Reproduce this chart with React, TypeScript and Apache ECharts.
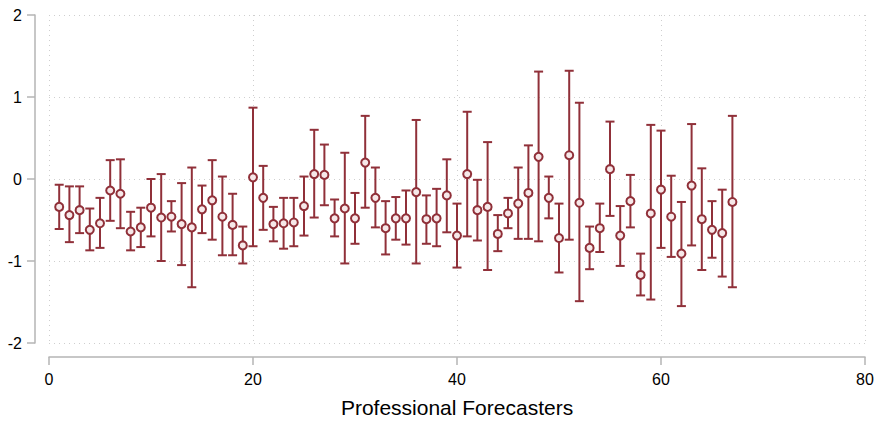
import React, { useEffect, useRef } from "react";
import * as echarts from "echarts";

const forecasters = [
  1, 2, 3, 4, 5, 6, 7, 8, 9, 10, 11, 12, 13, 14, 15, 16, 17, 18, 19, 20,
  21, 22, 23, 24, 25, 26, 27, 28, 29, 30, 31, 32, 33, 34, 35, 36, 37, 38, 39, 40,
  41, 42, 43, 44, 45, 46, 47, 48, 49, 50, 51, 52, 53, 54, 55, 56, 57, 58, 59, 60,
  61, 62, 63, 64, 65, 66, 67,
];

const estimates = [
  -0.34, -0.44, -0.38, -0.62, -0.54, -0.14, -0.18, -0.64, -0.59, -0.35,
  -0.47, -0.46, -0.55, -0.59, -0.37, -0.26, -0.46, -0.56, -0.81, 0.02,
  -0.23, -0.55, -0.54, -0.53, -0.33, 0.06, 0.05, -0.48, -0.36, -0.48,
  0.2, -0.23, -0.6, -0.48, -0.48, -0.16, -0.49, -0.48, -0.2, -0.69,
  0.06, -0.38, -0.34, -0.67, -0.42, -0.3, -0.17, 0.27, -0.23, -0.72,
  0.29, -0.29, -0.84, -0.6, 0.12, -0.69, -0.27, -1.17, -0.42, -0.13,
  -0.46, -0.91, -0.08, -0.49, -0.62, -0.66, -0.28,
];

const upper = [
  -0.07, -0.09, -0.09, -0.36, -0.23, 0.23, 0.24, -0.4, -0.35, 0.0,
  0.06, -0.27, -0.05, 0.14, -0.08, 0.23, 0.03, -0.18, -0.58, 0.87,
  0.16, -0.34, -0.23, -0.23, 0.03, 0.6, 0.42, -0.25, 0.32, -0.17,
  0.77, 0.14, -0.27, -0.22, -0.14, 0.72, -0.2, -0.12, 0.24, -0.3,
  0.82, -0.01, 0.45, -0.44, -0.23, 0.14, 0.41, 1.31, 0.03, -0.3,
  1.32, 0.93, -0.58, -0.3, 0.7, -0.33, 0.05, -0.91, 0.66, 0.59,
  0.04, -0.28, 0.67, 0.13, -0.27, -0.13, 0.77,
];

const lower = [
  -0.61, -0.77, -0.66, -0.87, -0.84, -0.51, -0.6, -0.87, -0.83, -0.7,
  -1.0, -0.64, -1.05, -1.32, -0.66, -0.74, -0.93, -0.93, -1.03, -0.82,
  -0.62, -0.76, -0.85, -0.82, -0.69, -0.47, -0.32, -0.7, -1.03, -0.79,
  -0.35, -0.59, -0.92, -0.74, -0.8, -1.03, -0.79, -0.82, -0.65, -1.08,
  -0.7, -0.75, -1.11, -0.88, -0.6, -0.73, -0.73, -0.76, -0.48, -1.14,
  -0.74, -1.49, -1.1, -0.89, -0.45, -1.06, -0.59, -1.42, -1.47, -0.84,
  -0.95, -1.55, -0.81, -1.11, -0.96, -1.19, -1.32,
];

const xTicks = { min: 0, max: 80, interval: 20 };
const yTicks = { min: -2, max: 2, interval: 1 };
const xTitle = "Professional Forecasters";

const RED = "#903039";
const AXIS = "#b5b5b5";
const GRIDC = "#cfcfcf";
const FONT = "Liberation Sans, Arial, Helvetica, sans-serif";

export default function App() {
  const ref = useRef<HTMLDivElement>(null);

  useEffect(() => {
    document.body.style.margin = "0";
    if (!ref.current) return;
    const chart = echarts.init(ref.current, undefined, { renderer: "svg" });

    const barData = forecasters.map((f, i) => [f, lower[i], upper[i]]);
    const pointData = forecasters.map((f, i) => [f, estimates[i]]);

    chart.setOption({
      animation: false,
      backgroundColor: "#ffffff",
      grid: { left: 49, right: 13, top: 15, bottom: 79 },
      xAxis: {
        type: "value",
        min: xTicks.min,
        max: xTicks.max,
        interval: xTicks.interval,
        offset: 14,
        name: xTitle,
        nameLocation: "middle",
        nameGap: 40,
        nameTextStyle: { fontFamily: FONT, fontSize: 21, color: "#000" },
        axisLine: { show: true, onZero: false, lineStyle: { color: AXIS, width: 1.5 } },
        axisTick: { show: true, length: 8, inside: false, lineStyle: { color: AXIS, width: 1.5 } },
        axisLabel: { fontFamily: FONT, fontSize: 16, color: "#000", margin: 14 },
        splitLine: { show: true, lineStyle: { color: GRIDC, type: [1, 4], width: 1 } },
      },
      yAxis: {
        type: "value",
        min: yTicks.min,
        max: yTicks.max,
        interval: yTicks.interval,
        offset: 14,
        axisLine: { show: true, onZero: false, lineStyle: { color: AXIS, width: 1.5 } },
        axisTick: { show: true, length: 8, inside: false, lineStyle: { color: AXIS, width: 1.5 } },
        axisLabel: { fontFamily: FONT, fontSize: 16, color: "#000", margin: 13 },
        splitLine: { show: true, lineStyle: { color: GRIDC, type: [1, 4], width: 1 } },
      },
      series: [
        {
          type: "custom",
          data: barData,
          z: 2,
          renderItem: (params: any, api: any) => {
            const x = api.value(0);
            const lo = api.coord([x, api.value(1)]);
            const hi = api.coord([x, api.value(2)]);
            const w = 4.5;
            const style = { stroke: RED, lineWidth: 2, fill: "none" };
            return {
              type: "group",
              children: [
                { type: "line", shape: { x1: lo[0], y1: lo[1], x2: hi[0], y2: hi[1] }, style },
                { type: "line", shape: { x1: hi[0] - w, y1: hi[1], x2: hi[0] + w, y2: hi[1] }, style },
                { type: "line", shape: { x1: lo[0] - w, y1: lo[1], x2: lo[0] + w, y2: lo[1] }, style },
              ],
            };
          },
        },
        {
          type: "scatter",
          data: pointData,
          z: 3,
          symbol: "circle",
          symbolSize: 8,
          itemStyle: { color: "#f6e8e9", borderColor: RED, borderWidth: 2, opacity: 1 },
        },
      ],
    });

    return () => chart.dispose();
  }, []);

  return <div ref={ref} style={{ width: 878, height: 423 }} />;
}
